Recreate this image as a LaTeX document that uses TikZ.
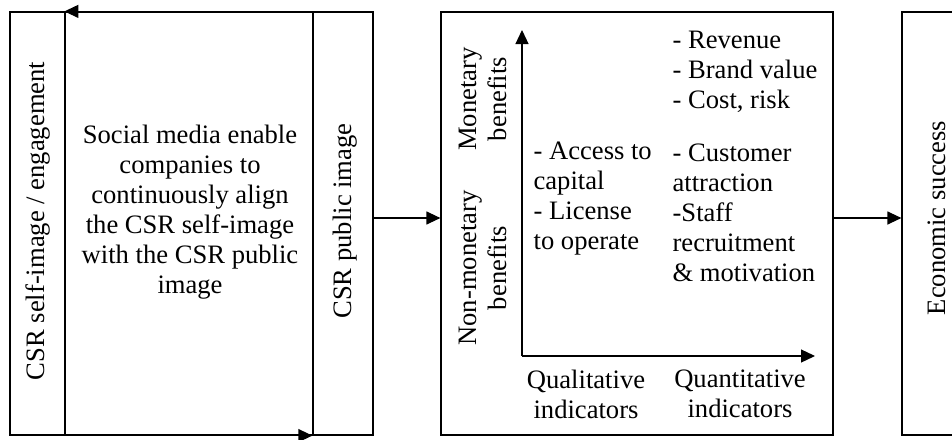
\documentclass[tikz,border=0pt]{standalone}
\usepackage{fontspec}
\setmainfont{Liberation Serif}
\usetikzlibrary{arrows.meta}

\begin{document}
\begin{tikzpicture}[x=0.5pt,y=-0.5pt,line width=0.6pt,>={Triangle[length=7pt,width=6.5pt]}]
\tikzstyle{box}=[draw,inner sep=0pt,minimum height=211.5pt]
\tikzstyle{txt}=[font=\fontsize{13.3}{15}\selectfont,inner sep=0pt]
\useasboundingbox (0,0) rectangle (952,439);

% the three parts of the CSR image
\node[box,minimum width=27.5pt] (self) at (37.5,223.5) {};
\node[box,minimum width=124pt] (align) at (189,223.5) {};
\node[box,minimum width=30pt] (public) at (343,223.5) {};

\node[txt,rotate=90] (SI) at (38,221) {CSR self-image / engagement};
\node[txt,align=center] (SM) at (190,212) {Social media enable\\companies to\\continuously align\\the CSR self-image\\with the CSR public\\image};
\node[txt,rotate=90] (PI) at (345,221) {CSR public image};

% benefits
\node[box,minimum width=196pt] (bene) at (637,223.5) {};

\coordinate (O) at (522,356);
\coordinate (Ytop) at (522,30);
\coordinate (Xend) at (815,356);

\node[txt,rotate=90,align=center] (MB) at (483,99) {Monetary\\benefits};
\node[txt,rotate=90,align=center] (NB) at (483,268) {Non-monetary\\benefits};

\node[txt,align=left,anchor=west] (QL) at (533,199) {- Access to\\capital\\- License\\to operate};
\node[txt,align=left,anchor=west] (MON) at (672,72) {- Revenue\\- Brand value\\- Cost, risk};
\node[txt,align=left,anchor=west] (QN) at (672,213) {- Customer\\attraction\\-Staff\\recruitment\\\& motivation};

\node[txt,align=center] (QLI) at (586,394) {Qualitative\\indicators};
\node[txt,align=center] (QNI) at (740,394) {Quantitative\\indicators};

% economic success
\node[box,minimum width=34pt] (econ) at (936,223.5) {};
\node[txt,rotate=90] (ES) at (937,218) {Economic success};

\draw[->] (public.north west) -- (align.north west);
\draw[->] (align.south west) -- (public.south west);
\draw[->] ([yshift=2.75pt]public.east) -- ([yshift=2.75pt]bene.west);
\draw[->] ([yshift=2.75pt]bene.east) -- ([yshift=2.75pt]econ.west);
\draw[->] (O) -- (Ytop);
\draw[->] (O) -- (Xend);

\end{tikzpicture}
\end{document}
